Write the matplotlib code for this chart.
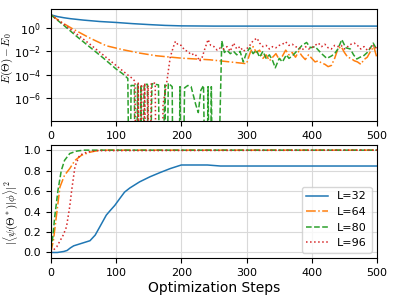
import numpy as np
import matplotlib
matplotlib.use('Agg')
import matplotlib.pyplot as plt

labels = ['L=32', 'L=64', 'L=80', 'L=96']
colors = ['tab:blue', 'tab:orange', 'tab:green', 'tab:red']
styles = ['-', '-.', '--', ':']

# top panel: energy error, stored as log10 exponents (-20 = fell to zero)
steps_e32 = [0, 10, 20, 30, 50, 75, 100, 125, 150, 175, 200, 250, 300, 400, 500]
logE_32 = [1.1, 0.95, 0.85, 0.77, 0.65, 0.53, 0.45, 0.35, 0.27, 0.2, 0.16, 0.14, 0.14, 0.14, 0.14]

steps_e64 = [0, 14, 34, 60, 85, 111, 136, 162, 200, 244, 300, 305, 310, 315, 320, 325, 330,
             335, 340, 345, 350, 355, 360, 365, 370, 375, 380, 385, 390, 395, 400, 405, 410,
             415, 420, 425, 430, 435, 440, 445, 450, 455, 460, 465, 470, 475, 480, 485, 490,
             495, 500]
logE_64 = [1.1, 0.54, -0.11, -0.88, -1.53, -1.87, -2.15, -2.38, -2.58, -2.72, -3.05, -2.2, -1.6,
           -2.1, -1.9, -2.6, -2.3, -2.8, -2.5, -2.2, -2.7, -2.4, -1.9, -2.3, -2.1, -2.5, -2.0,
           -2.4, -2.7, -2.3, -2.6, -2.9, -2.8, -3.0, -3.1, -3.3, -3.2, -2.6, -1.8, -1.6, -2.1,
           -2.5, -2.6, -2.8, -2.9, -3.1, -2.7, -2.5, -2.0, -1.6, -2.6]

steps_e80 = [0, 20, 40, 60, 80, 100, 110, 118, 121, 123, 128, 130, 133, 135, 138, 140, 143,
             148, 150, 155, 165, 168, 175, 177, 180, 186, 188, 195, 198, 201, 205, 210, 215,
             222, 226, 230, 234, 238, 241, 244, 246, 249, 254, 262, 266, 270, 275, 280, 285,
             290, 295, 300, 305, 310, 315, 320, 325, 330, 335, 340, 344, 350, 355, 361, 365,
             370, 375, 380, 385, 392, 398, 405, 410, 415, 423, 430, 435, 440, 446, 452, 459,
             464, 469, 474, 479, 485, 490, 494, 500]
logE_80 = [1.1, 0.2, -0.75, -1.65, -2.55, -3.5, -3.9, -4.3, -20, -4.9, -4.9, -20, -4.8, -20,
           -4.9, -20, -4.8, -4.8, -20, -4.75, -4.85, -20, -4.85, -20, -4.7, -5.0, -20, -20,
           -5.0, -20, -5.1, -4.9, -5.0, -6.5, -7.2, -5.3, -4.9, -20, -5.0, -20, -5.0, -20,
           -20, -1.1, -2.1, -1.9, -2.2, -2.0, -2.3, -2.0, -2.9, -2.1, -1.7, -2.2, -1.9, -2.5,
           -2.0, -2.6, -2.3, -2.8, -3.4, -2.6, -2.9, -2.3, -2.6, -2.4, -2.1, -1.8, -1.5,
           -1.25, -1.7, -1.6, -1.9, -2.2, -2.6, -2.4, -2.2, -1.8, -1.0, -1.7, -1.8, -2.3,
           -2.65, -2.5, -2.4, -2.1, -1.7, -1.3, -1.9]

steps_e96 = [0, 20, 40, 60, 80, 100, 110, 120, 125, 129, 131, 134, 136, 139, 141, 144, 146,
             149, 151, 154, 160, 162, 170, 172, 178, 183, 188, 191, 195, 200, 205, 210, 215,
             220, 225, 228, 232, 236, 241, 245, 250, 255, 260, 265, 270, 275, 280, 285, 290,
             295, 300, 305, 310, 316, 320, 325, 330, 335, 340, 345, 350, 355, 360, 365, 370,
             375, 380, 385, 390, 395, 400, 405, 410, 415, 420, 425, 430, 435, 440, 445, 450,
             455, 460, 465, 470, 475, 480, 485, 490, 495, 500]
logE_96 = [1.1, 0.3, -0.55, -1.4, -2.3, -3.2, -3.65, -4.1, -4.3, -4.55, -20, -4.7, -20, -4.8,
           -20, -4.7, -20, -4.9, -20, -4.7, -4.7, -20, -20, -6.5, -4.5, -2.5, -1.6, -1.15,
           -1.45, -1.5, -1.9, -2.0, -2.3, -2.2, -2.5, -2.85, -2.5, -1.8, -1.0, -1.5, -1.6,
           -1.9, -1.7, -1.8, -1.6, -2.0, -1.3, -1.8, -1.6, -2.0, -1.8, -1.5, -1.1, -0.88,
           -1.3, -1.6, -1.5, -1.8, -1.6, -1.7, -1.5, -1.4, -1.2, -1.5, -1.4, -1.6, -1.7,
           -1.9, -1.6, -1.8, -1.7, -1.5, -1.3, -1.6, -1.4, -1.7, -1.8, -1.5, -1.6, -1.5,
           -1.8, -1.6, -1.4, -1.3, -1.5, -1.8, -1.6, -1.9, -1.7, -1.5, -1.8]

# bottom panel: fidelity
steps_f32 = [0, 10, 20, 25, 30, 35, 45, 60, 68, 75, 85, 91, 98, 106, 113, 121, 136, 152, 167,
             183, 200, 240, 260, 300, 400, 500]
fid_32 = [0.0, 0.0, 0.01, 0.02, 0.045, 0.065, 0.085, 0.115, 0.17, 0.25, 0.365, 0.41, 0.46,
          0.53, 0.59, 0.63, 0.69, 0.74, 0.78, 0.82, 0.855, 0.855, 0.845, 0.845, 0.845, 0.845]
steps_f64 = [0, 4, 9, 14, 21, 29, 37, 47, 60, 75, 500]
fid_64 = [0.0, 0.12, 0.38, 0.64, 0.755, 0.82, 0.90, 0.95, 0.98, 1.0, 1.0]
steps_f80 = [0, 3, 6, 11, 16, 21, 29, 39, 50, 500]
fid_80 = [0.03, 0.15, 0.35, 0.61, 0.80, 0.90, 0.967, 0.99, 1.0, 1.0]
steps_f96 = [0, 9, 19, 24, 29, 32, 37, 44, 55, 70, 500]
fid_96 = [0.0, 0.055, 0.17, 0.25, 0.45, 0.61, 0.84, 0.95, 0.98, 0.995, 1.0]

energy = [(steps_e32, logE_32), (steps_e64, logE_64), (steps_e80, logE_80), (steps_e96, logE_96)]
fidelity = [(steps_f32, fid_32), (steps_f64, fid_64), (steps_f80, fid_80), (steps_f96, fid_96)]

fig = plt.figure(figsize=(3.94, 2.96), dpi=100)
ax1 = fig.add_axes([0.129, 0.591, 0.828, 0.379])
ax2 = fig.add_axes([0.129, 0.128, 0.828, 0.382])

for (s, e), c, ls, lab in zip(energy, colors, styles, labels):
  ax1.plot(s, 10.0 ** np.array(e), color=c, linestyle=ls, linewidth=1.1, label=lab)
ax1.set_yscale('log')
ax1.set_ylim(1.2e-8, 40)
ax1.set_xlim(0, 500)
ax1.set_ylabel(r'$E(\mathbf{\Theta}) - E_0$', fontsize=8, math_fontfamily='cm')
ax1.yaxis.set_label_coords(-0.11, 0.56)

for (s, f), c, ls, lab in zip(fidelity, colors, styles, labels):
  ax2.plot(s, f, color=c, linestyle=ls, linewidth=1.1, label=lab)
ax2.set_xlim(0, 500)
ax2.set_ylim(-0.055, 1.05)
ax2.set_yticks([0.0, 0.2, 0.4, 0.6, 0.8, 1.0])
ax2.set_xlabel('Optimization Steps', fontsize=10, labelpad=2)
ax2.set_ylabel(r'$|\langle\psi(\mathbf{\Theta}^*)|\phi\rangle|^2$', fontsize=8,
               math_fontfamily='cm')
ax2.yaxis.set_label_coords(-0.095, 0.4)
ax2.legend(loc='lower right', fontsize=8)

for ax in (ax1, ax2):
  ax.set_xticks([0, 100, 200, 300, 400, 500])
  ax.tick_params(labelsize=8)
  ax.grid(True, color='0.85', linewidth=0.8)
  ax.minorticks_off()

plt.savefig('out.png', dpi=100)
